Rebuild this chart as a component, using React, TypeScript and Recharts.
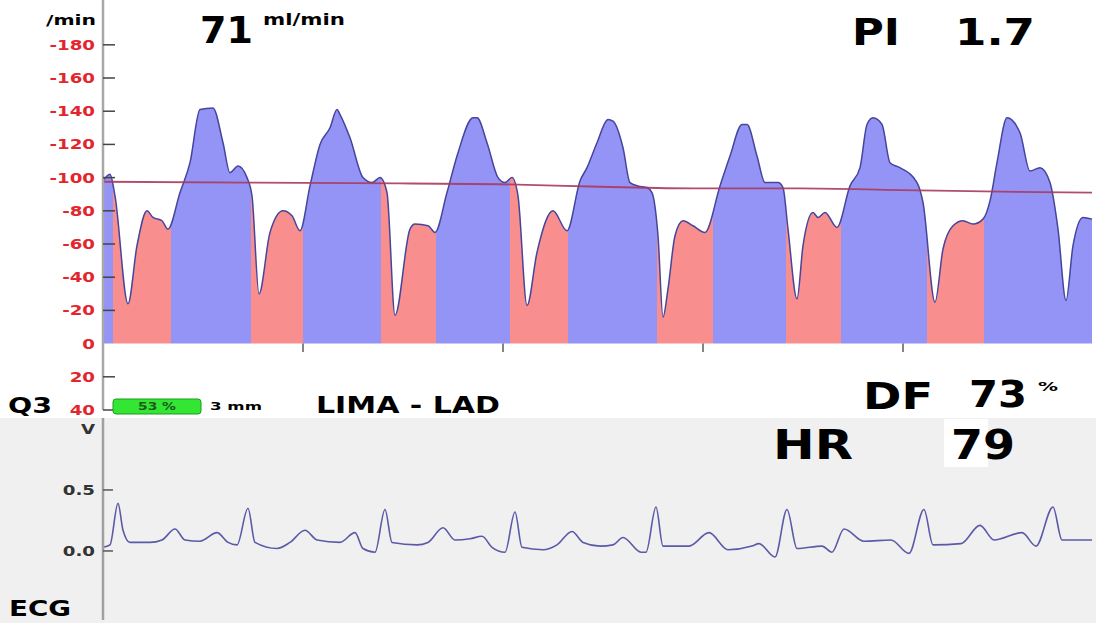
import { ComposedChart, Area, Line, XAxis, YAxis, ReferenceLine } from 'recharts';

// flow trace, time in seconds from the left edge of the plot, flow in ml/min
const TIME_S = [
  0, 0.035, 0.06, 0.125, 0.17, 0.22, 0.25, 0.295, 0.325, 0.385, 0.435, 0.485, 0.55, 0.6, 0.635, 0.675, 0.72,
  0.745, 0.78, 0.835, 0.9, 0.945, 0.985, 1.035, 1.085, 1.135, 1.17, 1.185, 1.235, 1.3, 1.345, 1.385, 1.42,
  1.46, 1.535, 1.56, 1.625, 1.66, 1.72, 1.775, 1.85, 1.87, 1.92, 1.975, 2.01, 2.045, 2.075, 2.12, 2.17,
  2.25, 2.32, 2.385, 2.42, 2.47, 2.525, 2.55, 2.6, 2.635, 2.675, 2.72, 2.745, 2.775, 2.8, 2.825, 2.86, 2.9,
  2.95, 3.01, 3.085, 3.135, 3.195, 3.22, 3.27, 3.31, 3.375, 3.4, 3.425, 3.47, 3.5, 3.55, 3.575, 3.61, 3.67,
  3.735, 3.785, 3.82, 3.85, 3.895, 3.935, 3.985, 4.07, 4.1, 4.16, 4.2, 4.25, 4.3, 4.35, 4.4, 4.435, 4.47,
  4.52, 4.585, 4.635, 4.685, 4.735, 4.775, 4.815, 4.85, 4.9, 4.945,
];
const FLOW = [
  98, 102, 89, 24, 59, 80, 76, 74, 69, 91, 109, 141, 142, 121, 103, 107, 100,
  89, 30, 67, 80, 77, 68, 95, 120, 130, 141, 138, 124, 100, 97, 100, 91,
  17, 69, 72, 71, 67, 91, 115, 136, 136, 121, 100, 97, 100, 89, 23, 55,
  80, 68, 98, 106, 121, 135, 134, 118, 97, 95, 94, 91, 65, 16, 33, 65, 74,
  71, 67, 95, 113, 132, 132, 113, 97, 97, 94, 69, 27, 59, 79, 76, 79, 70,
  95, 106, 132, 136, 132, 109, 106, 97, 85, 25, 57, 71, 74, 72, 75, 86, 109,
  136, 127, 104, 106, 97, 69, 26, 59, 76, 75,
];

// mean flow line
const MEAN_TIME_S = [0, 0.735, 1.485, 1.985, 2.485, 2.985, 3.485, 3.985, 4.485, 4.945];
const MEAN_FLOW = [97.5, 97, 96.5, 96, 94.5, 93.5, 93.5, 92.5, 91.5, 91];

// phase changes (s): diastole shaded pink, systole shaded blue
const DIASTOLE_START = [0.05, 0.74, 1.39, 2.035, 2.77, 3.415, 4.12];
const SYSTOLE_START = [0.34, 1.0, 1.665, 2.325, 3.05, 3.69, 4.405];

const FLOW_TICKS = [-40, -20, 0, 20, 40, 60, 80, 100, 120, 140, 160, 180];
const TIME_TICKS = [1, 2, 3, 4];

// ECG trace (V)
const ECG_TIME_S = [
  0, 0.035, 0.075, 0.1, 0.135, 0.235, 0.295, 0.36, 0.41, 0.485, 0.57, 0.625, 0.67, 0.725, 0.76, 0.87, 0.935,
  1.01, 1.07, 1.185, 1.26, 1.3, 1.36, 1.41, 1.445, 1.57, 1.625, 1.7, 1.76, 1.835, 1.895, 1.945, 2.01, 2.06,
  2.095, 2.2, 2.27, 2.345, 2.4, 2.485, 2.55, 2.6, 2.69, 2.715, 2.765, 2.8, 2.93, 3.03, 3.125, 3.245, 3.28,
  3.36, 3.42, 3.47, 3.595, 3.645, 3.705, 3.805, 3.94, 4.03, 4.105, 4.15, 4.29, 4.385, 4.455, 4.595, 4.665,
  4.75, 4.795, 4.945,
];
const ECG_V = [
  0.03, 0.05, 0.39, 0.17, 0.07, 0.07, 0.09, 0.18, 0.09, 0.08, 0.15, 0.07, 0.05, 0.35, 0.07, 0.02, 0.07,
  0.17, 0.09, 0.07, 0.15, 0.02, -0.01, 0.34, 0.07, 0.05, 0.07, 0.19, 0.09, 0.1, 0.12, 0.03, -0.01, 0.32,
  0.03, 0.01, 0.05, 0.16, 0.07, 0.04, 0.05, 0.11, -0.01, -0.01, 0.36, 0.04, 0.04, 0.15, 0.01, 0.04, 0.06,
  -0.05, 0.34, 0.02, 0.04, -0.01, 0.18, 0.08, 0.09, -0.02, 0.34, 0.05, 0.06, 0.21, 0.09, 0.15, 0.04,
  0.36, 0.09, 0.09,
];
const ECG_TICKS = [0, 0.5, 1];

const BLUE = '#9494f7';
const PINK = '#f88e8e';
const FONT = '"DejaVu Sans", sans-serif';
const AXIS_W = 103;
const T_MAX = TIME_S[TIME_S.length - 1];

const flowData = TIME_S.map((t, i) => ({ t, flow: FLOW[i] }));
const meanData = MEAN_TIME_S.map((t, i) => ({ t, mean: MEAN_FLOW[i] }));
const ecgData = ECG_TIME_S.map((t, i) => ({ t, ecg: ECG_V[i] }));

// hard colour stops across the area, one band per heart phase
function phaseStops() {
  const changes = [
    ...DIASTOLE_START.map((t) => ({ t, c: PINK })),
    ...SYSTOLE_START.map((t) => ({ t, c: BLUE })),
  ].sort((a, b) => a.t - b.t);
  const stops: { off: number; c: string }[] = [];
  let cur = BLUE;
  let prev = 0;
  for (const ch of changes) {
    stops.push({ off: prev / T_MAX, c: cur }, { off: ch.t / T_MAX, c: cur });
    cur = ch.c;
    prev = ch.t;
  }
  stops.push({ off: prev / T_MAX, c: cur }, { off: 1, c: cur });
  return stops;
}

function FlowTick(props: any) {
  const { x, y, payload } = props;
  const v = payload.value;
  const label = v > 0 ? `-${v}` : `${Math.abs(v)}`;
  return (
    <g>
      <text
        transform={`translate(${x},${y}) scale(1.3,1)`}
        textAnchor='end'
        dy='0.36em'
        fontSize={14}
        fontWeight='bold'
        fontFamily={FONT}
        fill='#e3262e'
      >
        {label}
      </text>
      {v !== 0 && <line x1={AXIS_W} x2={AXIS_W + 12} y1={y} y2={y} stroke='#444' strokeWidth={1.5} />}
    </g>
  );
}

function EcgTick(props: any) {
  const { x, y, payload } = props;
  const v = payload.value;
  const label = v === 1 ? 'V' : v.toFixed(1);
  return (
    <g>
      <text
        transform={`translate(${x},${y}) scale(1.3,1)`}
        textAnchor='end'
        dy='0.36em'
        fontSize={14}
        fontWeight='bold'
        fontFamily={FONT}
        fill='#333'
      >
        {label}
      </text>
      {v !== 1 && <line x1={AXIS_W} x2={AXIS_W + 10} y1={y} y2={y} stroke='#555' strokeWidth={1.5} />}
    </g>
  );
}

function Txt({ x, y, w, size, fill = '#000', children }: any) {
  return (
    <text
      x={x}
      y={y}
      fontSize={size}
      fontWeight='bold'
      fontFamily={FONT}
      fill={fill}
      textLength={w}
      lengthAdjust='spacingAndGlyphs'
    >
      {children}
    </text>
  );
}

export default function App() {
  const stops = phaseStops();
  return (
    <div style={{ position: 'absolute', left: 0, top: 0, width: 1096, height: 623, background: '#fff', overflow: 'hidden' }}>
      <div style={{ position: 'absolute', left: 0, top: 0 }}>
        <ComposedChart width={1096} height={418} data={flowData} margin={{ top: 0, right: 4, bottom: 8, left: 0 }}>
          <defs>
            <linearGradient id='phaseFill' x1='0' y1='0' x2='1' y2='0'>
              {stops.map((s, i) => (
                <stop key={i} offset={s.off} stopColor={s.c} />
              ))}
            </linearGradient>
          </defs>
          <XAxis dataKey='t' type='number' domain={[0, T_MAX]} hide />
          <YAxis
            type='number'
            width={AXIS_W}
            domain={[-40, 207]}
            allowDataOverflow
            ticks={FLOW_TICKS}
            interval={0}
            tickLine={false}
            tickSize={0}
            tickMargin={8}
            axisLine={{ stroke: '#a8a8a8', strokeWidth: 2.5 }}
            tick={(p: any) => <FlowTick {...p} />}
          />
          <Area
            dataKey='flow'
            type='monotone'
            baseValue={0}
            fill='url(#phaseFill)'
            fillOpacity={1}
            stroke='#45459c'
            strokeWidth={1.5}
            dot={false}
            activeDot={false}
            isAnimationActive={false}
          />
          <Line
            data={meanData}
            dataKey='mean'
            type='monotone'
            stroke='#a83a5c'
            strokeWidth={1.8}
            strokeOpacity={0.9}
            dot={false}
            activeDot={false}
            isAnimationActive={false}
          />
          {TIME_TICKS.map((t) => (
            <ReferenceLine
              key={t}
              segment={[
                { x: t, y: 0 },
                { x: t, y: -5 },
              ]}
              stroke='#333'
              strokeWidth={1.2}
            />
          ))}
        </ComposedChart>
      </div>

      <div style={{ position: 'absolute', left: 0, top: 418, width: 1096, height: 205, background: '#f0f0f0' }}>
        <ComposedChart width={1096} height={205} data={ecgData} margin={{ top: 0, right: 4, bottom: 3, left: 0 }}>
          <XAxis dataKey='t' type='number' domain={[0, T_MAX]} hide />
          <YAxis
            type='number'
            width={AXIS_W}
            domain={[-0.566, 1.09]}
            allowDataOverflow
            ticks={ECG_TICKS}
            interval={0}
            tickLine={false}
            tickSize={0}
            tickMargin={8}
            axisLine={{ stroke: '#a0a0a0', strokeWidth: 2.5 }}
            tick={(p: any) => <EcgTick {...p} />}
          />
          <Line
            dataKey='ecg'
            type='monotone'
            stroke='#5a5aa8'
            strokeWidth={1.6}
            dot={false}
            activeDot={false}
            isAnimationActive={false}
          />
        </ComposedChart>
      </div>

      <svg width={1096} height={623} style={{ position: 'absolute', left: 0, top: 0, pointerEvents: 'none' }}>
        <Txt x={46} y={25} w={50} size={14}>/min</Txt>
        <Txt x={200} y={43} w={53} size={38}>71</Txt>
        <Txt x={263} y={25} w={82} size={15}>ml/min</Txt>
        <Txt x={852} y={45} w={48} size={38}>PI</Txt>
        <Txt x={955} y={45} w={80} size={38}>1.7</Txt>

        <Txt x={8} y={413} w={44} size={21}>Q3</Txt>
        <rect x={113} y={399} width={88} height={15} rx={3} fill='#33e633' stroke='#1f9a1f' strokeWidth={1} />
        <Txt x={138} y={410} w={38} size={10} fill='#1c5a1c'>53 %</Txt>
        <Txt x={210} y={410} w={52} size={11}>3 mm</Txt>
        <Txt x={316} y={413} w={184} size={23}>LIMA - LAD</Txt>
        <Txt x={863} y={409} w={70} size={38}>DF</Txt>
        <Txt x={969} y={407} w={58} size={38}>73</Txt>
        <Txt x={1038} y={391} w={20} size={13}>%</Txt>

        <rect x={944} y={419} width={44} height={48} fill='#fff' />
        <Txt x={773} y={459} w={80} size={40}>HR</Txt>
        <Txt x={951} y={459} w={64} size={40}>79</Txt>
        <Txt x={9} y={616} w={62} size={22}>ECG</Txt>
      </svg>
    </div>
  );
}
